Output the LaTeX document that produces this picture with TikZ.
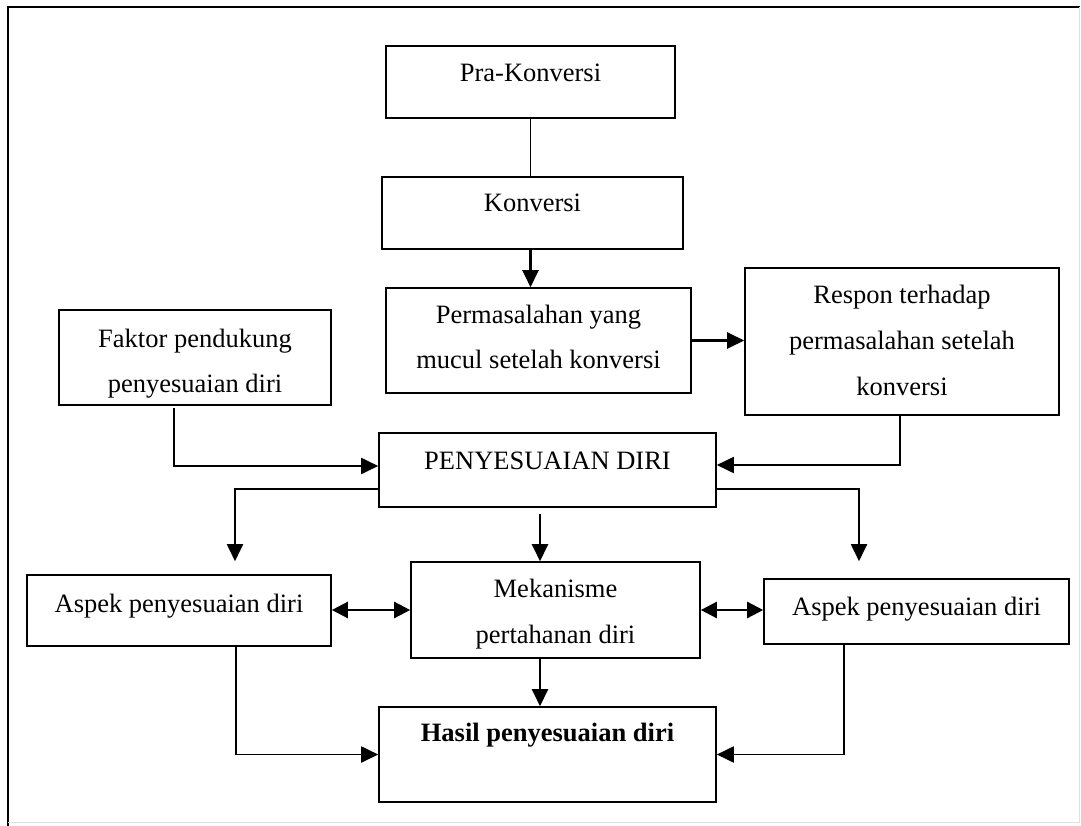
\documentclass[tikz,border=0pt]{standalone}
\usepackage{fontspec}
\setmainfont{Liberation Serif}
\usetikzlibrary{arrows.meta}
\tikzset{
  box/.style={draw, line width=1.6pt, inner sep=0pt, fill=white},
  txt/.style={inner sep=0pt, anchor=base, font=\fontsize{26.5}{45}\selectfont},
  plain/.style={line width=1.4pt},
  arr/.style={line width=2.4pt, -{Triangle[length=17pt,width=16pt]}},
  biarr/.style={line width=2.4pt, {Triangle[length=16pt,width=16pt]}-{Triangle[length=16pt,width=16pt]}},
  elb/.style={line width=1.9pt, -{Triangle[length=17pt,width=16pt]}}
}
\begin{document}
\begin{tikzpicture}[x=1pt,y=-1pt]
\useasboundingbox (0,0) rectangle (1081,826);
% outer frame
\draw[line width=2pt] (8,826) -- (8,7) -- (1080,7);
\draw[line width=1pt, black!12] (1079,7) -- (1079,822) -- (8,822);

% boxes
\node[box, minimum width=289pt, minimum height=72pt] (pra) at (530.5,82) {};
\node[box, minimum width=301pt, minimum height=72pt] (konv) at (532.5,213) {};
\node[box, minimum width=305pt, minimum height=105pt] (perm) at (538.5,340.5) {};
\node[box, minimum width=314pt, minimum height=147pt] (resp) at (902,341.5) {};
\node[box, minimum width=272pt, minimum height=95pt] (fak) at (195,357.5) {};
\node[box, minimum width=337pt, minimum height=74pt] (peny) at (547.5,470) {};
\node[box, minimum width=304pt, minimum height=71pt] (aspL) at (179,610.5) {};
\node[box, minimum width=289pt, minimum height=96pt] (mek) at (555.5,610) {};
\node[box, minimum width=305pt, minimum height=65pt] (aspR) at (916.5,611.5) {};
\node[box, minimum width=337pt, minimum height=95pt] (hasil) at (547.5,754.5) {};

% texts
\node[txt] (praT) at (530.5,82) {Pra-Konversi};
\node[txt] (konvT) at (532.5,212) {Konversi};
\node[txt] (permT1) at (538.5,323) {Permasalahan yang};
\node[txt] (permT2) at (538.5,368) {mucul setelah konversi};
\node[txt] (respT1) at (902,303) {Respon terhadap};
\node[txt] (respT2) at (902,349) {permasalahan setelah};
\node[txt] (respT3) at (902,395) {konversi};
\node[txt] (fakT1) at (195,347) {Faktor pendukung};
\node[txt] (fakT2) at (195,392) {penyesuaian diri};
\node[txt] (penyT) at (547.5,469) {PENYESUAIAN DIRI};
\node[txt] (aspLT) at (179,612) {Aspek penyesuaian diri};
\node[txt] (mekT1) at (555.5,597) {Mekanisme};
\node[txt] (mekT2) at (555.5,643) {pertahanan diri};
\node[txt] (aspRT) at (916.5,615) {Aspek penyesuaian diri};
\node[txt] (hasilT) at (547.5,741) {\textbf{Hasil penyesuaian diri}};

% connectors
\draw[plain] (pra.south) -- (pra.south |- konv.north);
\draw[arr] (konv.south -| pra.south) -- (pra.south |- perm.north);
\draw[arr] (perm.east) -- (resp.west |- perm.east);
\draw[elb] ([xshift=-21pt,yshift=-2pt]fak.south) |- ([yshift=4pt]peny.west);
\draw[elb] ([xshift=-2pt]resp.south) |- ([yshift=5pt]peny.east);
\draw[elb] ([yshift=-19pt]peny.west) -| ([xshift=56pt,yshift=13pt]aspL.north);
\draw[elb] ([yshift=-19pt]peny.east) -| ([xshift=-57.5pt,yshift=17pt]aspR.north);
\draw[arr] ([xshift=-7.5pt,yshift=-6pt]peny.south) -- ([xshift=-7.5pt]peny.south |- mek.north);
\draw[biarr] (aspL.east |- mek.west) -- (mek.west);
\draw[biarr] (mek.east) -- (aspR.west |- mek.east);
\draw[arr] ([xshift=-15.5pt]mek.south) -- ([xshift=-15.5pt]mek.south |- hasil.north);
\draw[elb] ([xshift=57pt]aspL.south) |- (hasil.west);
\draw[elb] ([xshift=-72.5pt]aspR.south) |- (hasil.east);
\end{tikzpicture}
\end{document}
